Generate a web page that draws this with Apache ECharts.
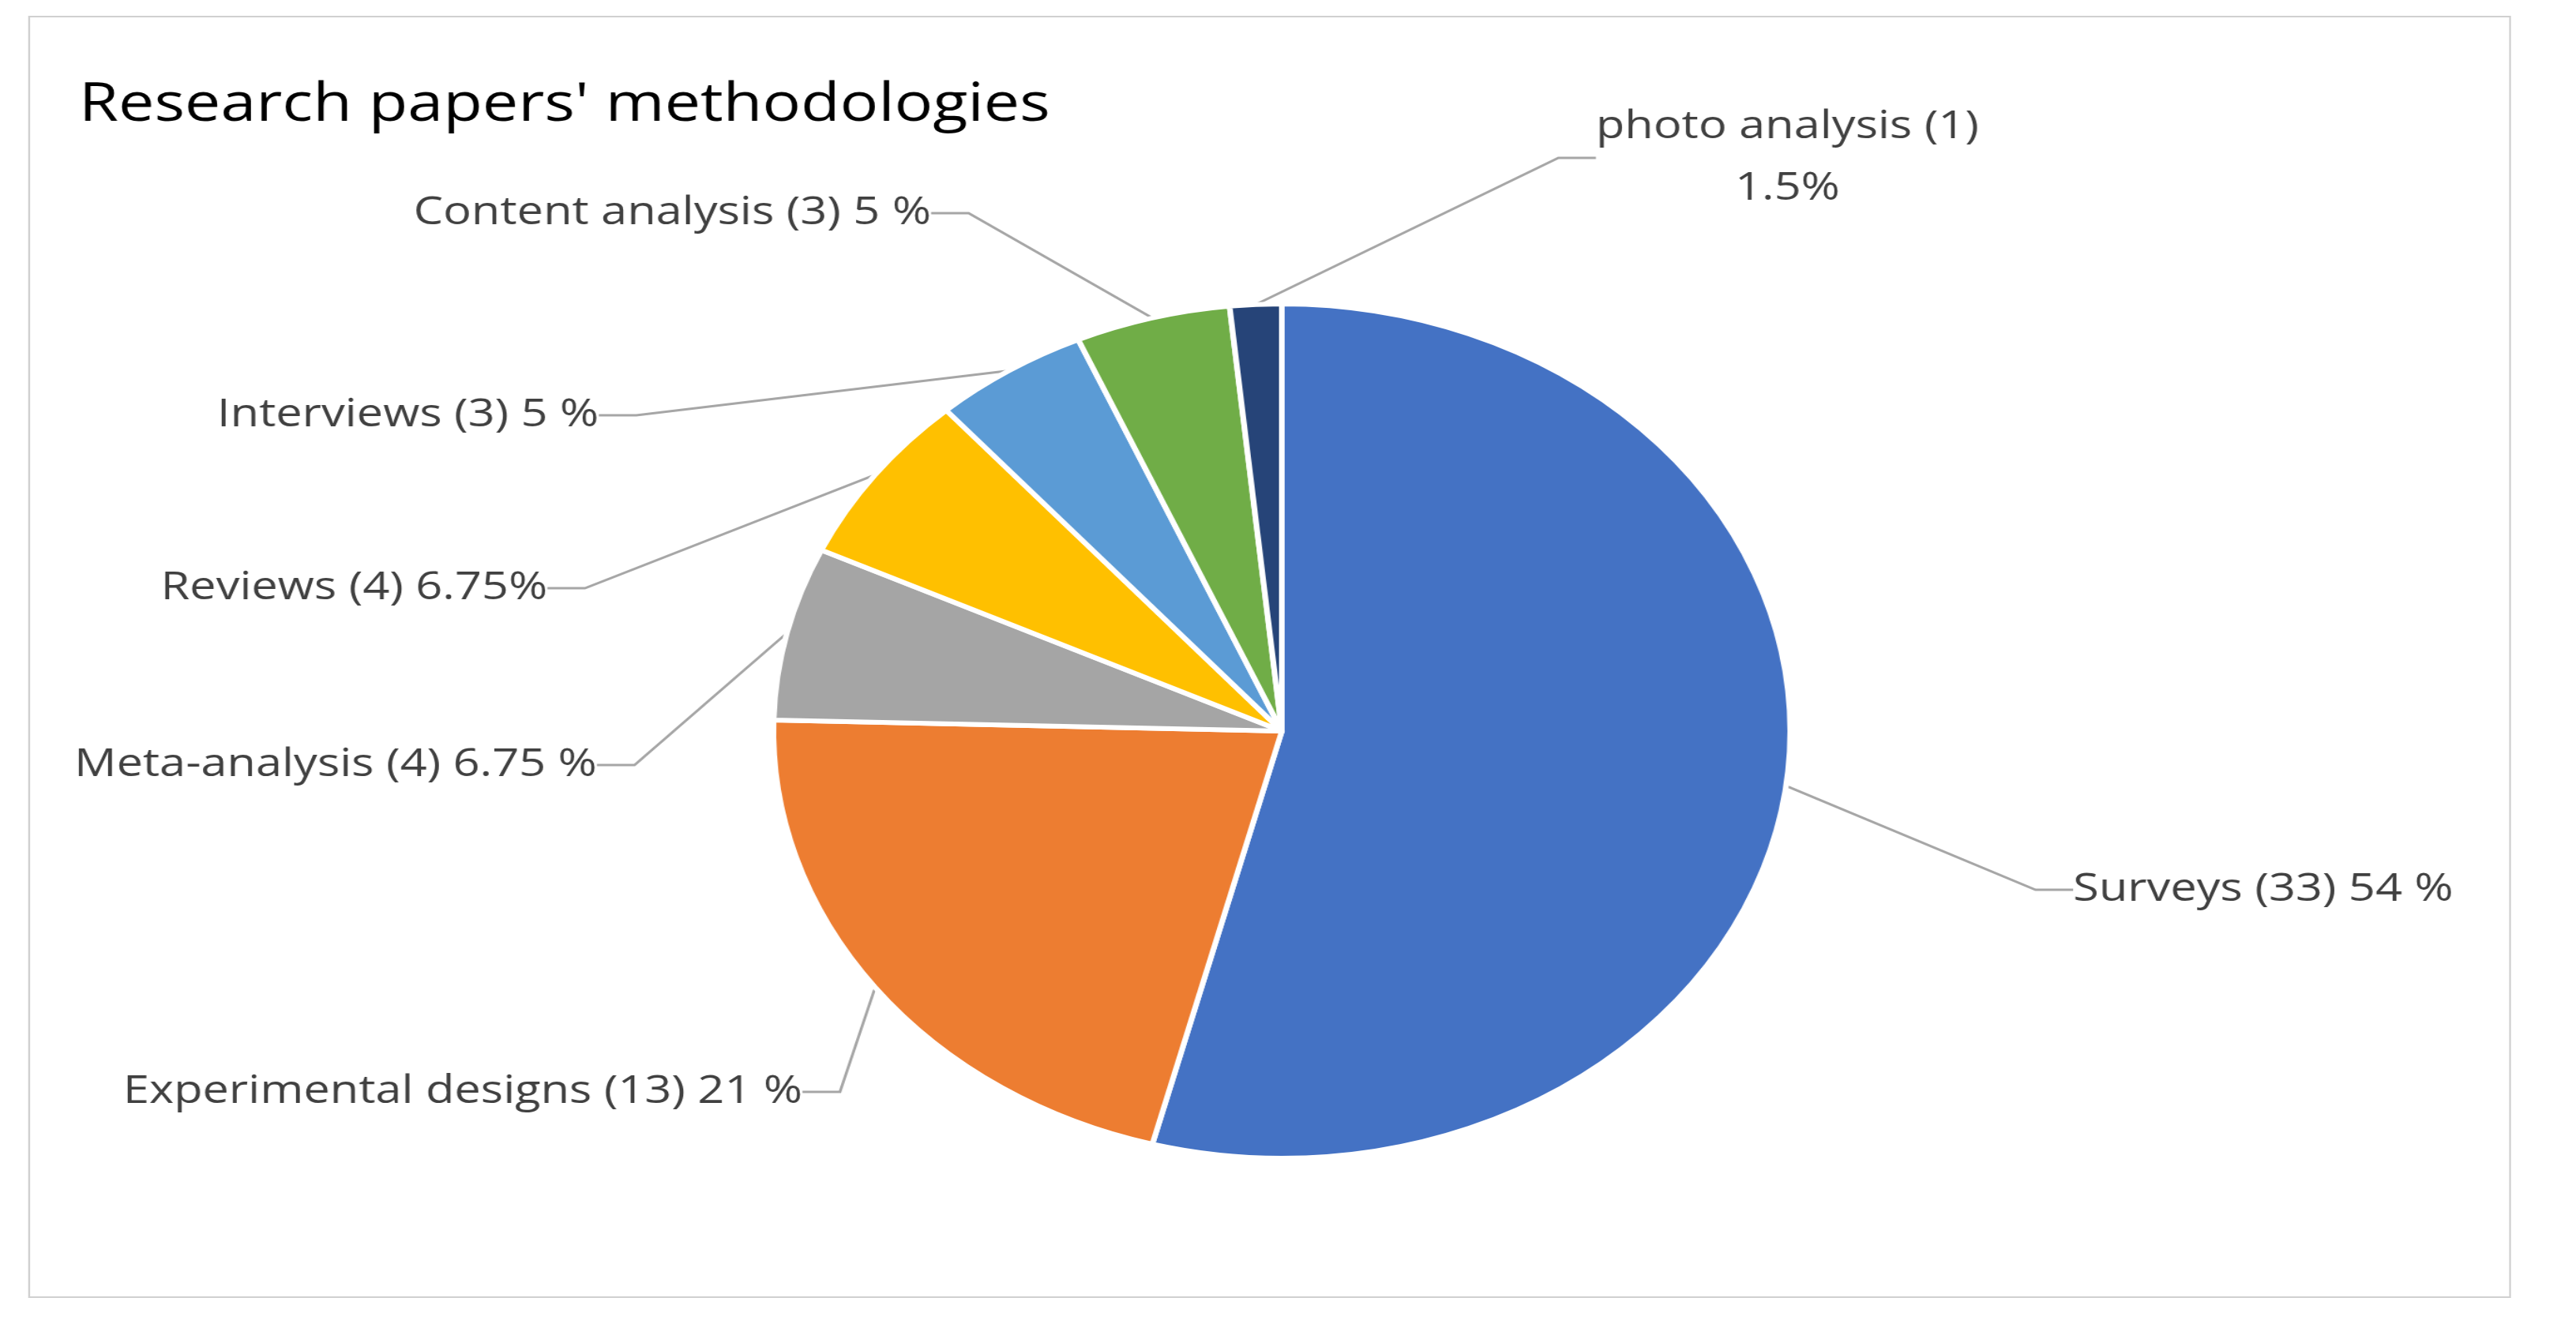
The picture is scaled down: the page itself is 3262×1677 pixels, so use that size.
<!DOCTYPE html>
<html lang="en">
<head>
<meta charset="UTF-8">
<title>Research papers' methodologies</title>
<script src="https://cdn.jsdelivr.net/npm/echarts@6.0.0/dist/echarts.min.js"></script>
<style>
  html, body { margin: 0; padding: 0; background: #fff; overflow: hidden; }
  #wrap { width: 3262px; height: 1677px; position: relative; }
  #chart { width: 2741px; height: 1677px; transform: scaleX(1.19); transform-origin: 0 0; }
</style>
</head>
<body>
<div id="wrap"><div id="chart"></div></div>
<script>
const categories = ['Surveys', 'Experimental designs', 'Meta-analysis', 'Reviews', 'Interviews', 'Content analysis', 'photo analysis']
const counts = [33, 13, 4, 4, 3, 3, 1]
const labelTexts = ['Surveys (33) 54 %', 'Experimental designs (13) 21 %', 'Meta-analysis (4) 6.75 %',
  'Reviews (4) 6.75%', 'Interviews (3) 5 %', 'Content analysis (3) 5 %', 'photo analysis (1)\n1.5%']
const colors = ['#4472C4', '#ED7D31', '#A5A5A5', '#FFC000', '#5B9BD5', '#70AD47', '#264478']

// label anchor positions (unscaled chart px)
const labelPos = [
  [2206, 1127, 'left'], [131, 1383, 'left'], [79, 969, 'left'], [171, 745, 'left'],
  [231, 526, 'left'], [440, 270, 'left'], [1902, 200, 'center']
]

const chart = echarts.init(document.getElementById('chart'))
chart.setOption({
  animation: false,
  title: {
    text: "Research papers' methodologies",
    left: 79, top: 95,
    textStyle: { fontFamily: 'Open Sans', fontWeight: 'normal', fontSize: 68, color: '#000' }
  },
  graphic: [{
    type: 'rect', shape: { x: 31, y: 21, width: 2640, height: 1622 },
    style: { fill: 'none', stroke: '#D0D0D0', lineWidth: 2 }
  }],
  series: [{
    type: 'pie',
    center: [1364, 926],
    radius: 541,
    startAngle: 90,
    clockwise: true,
    data: categories.map((c, i) => ({ name: c, value: counts[i], itemStyle: { color: colors[i] } })),
    itemStyle: { borderColor: '#fff', borderWidth: 6 },
    label: {
      formatter: p => labelTexts[p.dataIndex],
      fontFamily: 'Open Sans', fontSize: 50, color: '#404040', lineHeight: 78
    },
    labelLine: { show: true, length: 60, length2: 40, lineStyle: { color: '#A6A6A6', width: 3 } },
    labelLayout: p => {
      const pos = labelPos[p.dataIndex]
      return { x: pos[0], y: pos[1], align: pos[2], verticalAlign: 'middle' }
    }
  }]
})
</script>
</body>
</html>
